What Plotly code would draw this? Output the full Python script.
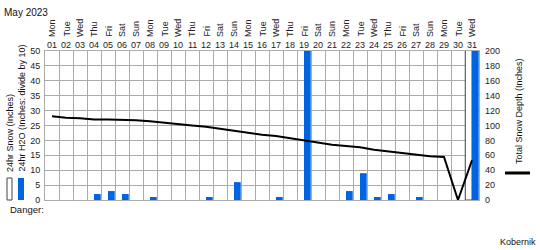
import plotly.graph_objects as go

# ---------------- data ----------------
days = list(range(1, 32))
day_labels = ["%02d" % d for d in days]
weekdays = ["Mon", "Tue", "Wed", "Thu", "Fri", "Sat", "Sun",
            "Mon", "Tue", "Wed", "Thu", "Fri", "Sat", "Sun",
            "Mon", "Tue", "Wed", "Thu", "Fri", "Sat", "Sun",
            "Mon", "Tue", "Wed", "Thu", "Fri", "Sat", "Sun",
            "Mon", "Tue", "Wed"]
snow_24hr = [0, 0, 0, 0, 0, 0, 0, 0, 0, 0, 0, 0, 0, 0, 0, 0,
             0, 0, 0, 0, 0, 0, 0, 0, 0, 0, 0, 0, 0, 0, 60]
h2o_24hr = [0, 0, 0, 2, 3, 2, 0, 1, 0, 0, 0, 1, 0, 6, 0, 0,
            1, 0, 60, 0, 0, 3, 9, 1, 2, 0, 1, 0, 0, 0, 60]
total_depth = [112.4, 110.5, 109.8, 108, 108, 108, 107, 105.8, 103.6, 101.8,
               100, 98.2, 95.5, 93.3, 89.8, 87.6, 85.8, 83, 80, 76.9,
               74.2, 72.4, 70.7, 67.6, 65.3, 63.6, 60.9, 58.7, 57.8, 0, 53.3]
left_ticks = list(range(0, 51, 5))
right_ticks = list(range(0, 201, 20))

# ---------------- layout constants ----------------
W, H = 540, 250
PL, PR, PT, PB = 45, 479, 51, 200
FONT = "Liberation Sans Narrow, Arial Narrow, Liberation Sans, Arial, sans-serif"
GRID = "#ababab"
BLUE = "#0064e0"


def fx(px):
    return (px - PL) / (PR - PL)


def fy(py):
    return (PB - py) / (PB - PT)


fig = go.Figure()
fig.add_trace(go.Bar(x=days, y=[v if v else None for v in snow_24hr],
                     name="24hr Snow (Inches)",
                     marker=dict(color="white", line=dict(color="#444444", width=1)),
                     yaxis="y"))
fig.add_trace(go.Bar(x=days, y=h2o_24hr, name="24hr H2O",
                     marker=dict(color=BLUE, line=dict(width=0)),
                     yaxis="y"))
fig.add_trace(go.Scatter(x=days, y=total_depth, mode="lines",
                         line=dict(color="black", width=2),
                         yaxis="y2", name="Total Snow Depth"))

annotations = []
# weekday (rotated) and day number labels above plot
for d, lab, wd in zip(days, day_labels, weekdays):
    annotations.append(dict(x=d, y=1, xref="x", yref="paper", text=wd,
                            textangle=-90, showarrow=False, xanchor="center",
                            yanchor="bottom", yshift=12,
                            font=dict(family=FONT, size=9, color="#222")))
    annotations.append(dict(x=d, y=1, xref="x", yref="paper", text=lab,
                            showarrow=False, xanchor="center",
                            yanchor="bottom", yshift=-1,
                            font=dict(family=FONT, size=9, color="#222")))

annotations += [
    dict(x=fx(2), y=fy(12), xref="paper", yref="paper", text="May 2023",
         showarrow=False, xanchor="left", yanchor="middle",
         font=dict(family="Liberation Sans, Arial", size=10, color="#111")),
    dict(x=fx(10), y=fy(174), xref="paper", yref="paper", text="24hr Snow (Inches)",
         textangle=-90, showarrow=False, xanchor="center", yanchor="bottom",
         font=dict(family=FONT, size=9, color="#111")),
    dict(x=fx(21), y=fy(174), xref="paper", yref="paper",
         text="24hr H2O (Inches: divide by 10)",
         textangle=-90, showarrow=False, xanchor="center", yanchor="bottom",
         font=dict(family=FONT, size=9, color="#111")),
    dict(x=fx(8), y=fy(210), xref="paper", yref="paper", text="Danger:",
         showarrow=False, xanchor="left", yanchor="middle",
         font=dict(family=FONT, size=9.5, color="#111")),
    dict(x=fx(519), y=fy(166), xref="paper", yref="paper",
         text="Total Snow Depth (Inches)",
         textangle=-90, showarrow=False, xanchor="center", yanchor="bottom",
         font=dict(family=FONT, size=9, color="#111")),
    dict(x=fx(538), y=fy(242), xref="paper", yref="paper", text="Kobernik",
         showarrow=False, xanchor="right", yanchor="middle",
         font=dict(family=FONT, size=9, color="#111")),
]

shapes = [
    dict(type="rect", xref="paper", yref="paper", x0=fx(7), x1=fx(12),
         y0=fy(200), y1=fy(178), line=dict(color="#444", width=1), fillcolor="white"),
    dict(type="rect", xref="paper", yref="paper", x0=fx(18), x1=fx(24),
         y0=fy(200), y1=fy(178), line=dict(width=0), fillcolor=BLUE),
    dict(type="line", xref="paper", yref="paper", x0=fx(505), x1=fx(530),
         y0=fy(173), y1=fy(173), line=dict(color="black", width=3)),
]

fig.update_layout(
    width=W, height=H, autosize=False,
    margin=dict(l=PL, r=W - PR, t=PT, b=H - PB, pad=0),
    paper_bgcolor="white", plot_bgcolor="white",
    showlegend=False, barmode="group", bargap=0.04, bargroupgap=0,
    font=dict(family=FONT, size=9, color="#222"),
    annotations=annotations, shapes=shapes,
    xaxis=dict(range=[0.5, 31.5], tickvals=[d + 0.5 for d in [0] + days],
               showticklabels=False, ticks="", showgrid=True, gridcolor=GRID,
               gridwidth=1, zeroline=False, showline=True, linecolor=GRID,
               mirror=True, fixedrange=True),
    yaxis=dict(range=[0, 50], tickvals=left_ticks, ticks="", showgrid=True,
               gridcolor=GRID, gridwidth=1, zeroline=False, showline=True,
               linecolor=GRID, mirror=True, ticklabelstandoff=2,
               tickfont=dict(family=FONT, size=9, color="#222")),
    yaxis2=dict(range=[0, 200], tickvals=right_ticks, overlaying="y", side="right",
                showgrid=False, zeroline=False, ticks="", showline=False,
                ticklabelstandoff=5,
                tickfont=dict(family=FONT, size=9, color="#222")),
)

fig.write_html("out.html")
